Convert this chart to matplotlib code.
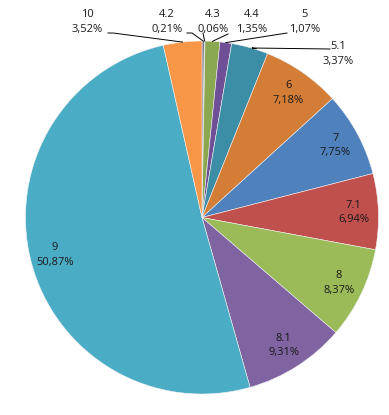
import numpy as np
import matplotlib
matplotlib.use("Agg")
import matplotlib.pyplot as plt

categories = ["4.2", "4.3", "4.4", "5", "5.1", "6", "7", "7.1", "8", "8.1", "9", "10"]
values = [0.21, 0.06, 1.35, 1.07, 3.37, 7.18, 7.75, 6.94, 8.37, 9.31, 50.87, 3.52]
colors = ["#77708a", "#8c6d4f", "#8aa84f", "#6f4f96", "#3b8ea6", "#d47d37",
          "#4f81bd", "#c0504d", "#9bbb59", "#8064a2", "#4bacc6", "#f79646"]
outside = ["4.2", "4.3", "4.4", "5", "5.1", "10"]

W, H = 389, 415
fig = plt.figure(figsize=(W / 100, H / 100), dpi=100)
ax = fig.add_axes([0, 0, 1, 1])

cx, cy, R = 202, H - 217.5, 176.5
font = ["Open Sans", "DejaVu Sans"]
tcol = "#1a1a1a"
fs = 8

def fmt(v):
    return f"{v:.2f}".replace(".", ",") + "%"

wedges, _ = ax.pie(values, colors=colors, startangle=90, counterclock=False,
                   center=(cx, cy), radius=R, frame=True,
                   wedgeprops=dict(edgecolor="#f0f0f0", linewidth=0.4))
ax.set_xlim(0, W)
ax.set_ylim(0, H)
ax.set_aspect("equal")
ax.axis("off")

# label text centre and leader start, in pixel coords from top
out_pos = {
    "10": ((87, 22), (108, 33)),
    "4.2": ((167, 22), (187, 33)),
    "4.3": ((213, 22), (203, 33)),
    "4.4": ((252, 22), (228, 34)),
    "5": ((305, 22), (287, 33)),
    "5.1": ((338, 54), (330, 49)),
}

for w, cat, v in zip(wedges, categories, values):
    ang = np.deg2rad((w.theta1 + w.theta2) / 2)
    if cat in outside:
        (tx, ty), (lx, ly) = out_pos[cat]
        ex, ey = cx + R * np.cos(ang), cy + R * np.sin(ang)
        ax.text(tx, H - ty, f"{cat}\n{fmt(v)}", ha="center", va="center",
                fontsize=fs, color=tcol, family=font, linespacing=1.45)
        if cat == "5.1":
            pts_x = [lx, 252, ex + 6]
            pts_y = [H - ly, H - 48, ey - 1]
        elif cat in ("10", "4.2"):
            pts_x = [lx, lx + 5, ex]
            pts_y = [H - ly, H - ly, ey]
        else:
            pts_x = [lx, ex]
            pts_y = [H - ly, ey]
        ax.plot(pts_x, pts_y, color="black", lw=0.7)
    else:
        r = 0.86 * R
        ax.text(cx + r * np.cos(ang), cy + r * np.sin(ang), f"{cat}\n{fmt(v)}",
                ha="center", va="center", fontsize=fs, color=tcol,
                family=font, linespacing=1.45)

fig.savefig("out.png", dpi=100)
